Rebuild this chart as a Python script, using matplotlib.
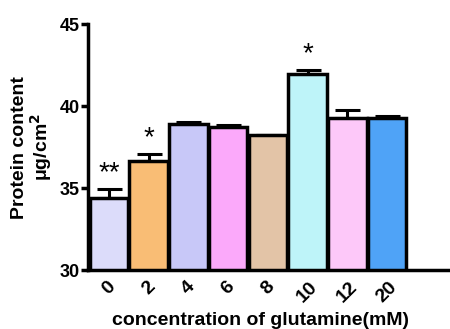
import matplotlib
matplotlib.use("Agg")
import matplotlib.pyplot as plt
import numpy as np

# =====================
# data
# =====================
conc = ["0", "2", "4", "6", "8", "10", "12", "20"]
protein = [34.4, 36.65, 38.9, 38.7, 38.25, 41.95, 39.25, 39.3]
sem = [0.55, 0.42, 0.12, 0.15, 0.0, 0.25, 0.5, 0.07]
stars = ["**", "*", "", "", "", "*", "", ""]
colors = ["#DCDCFA", "#F9BD75", "#C8C8F8", "#FBA9FA",
          "#E3C4A7", "#BEF4F9", "#FDC8F9", "#4FA3F7"]

plt.rcParams["font.family"] = ["Liberation Sans", "DejaVu Sans"]
plt.rcParams["font.weight"] = "bold"

fig = plt.figure(figsize=(4.5, 3.29), dpi=100)
ax = fig.add_axes([0.196, 0.179, 0.81, 0.748])

x = np.arange(len(conc))
ax.bar(x, [p - 30 for p in protein], bottom=30, width=0.97, color=colors,
       edgecolor="black", linewidth=2.5, zorder=3)
ax.errorbar(x, protein, yerr=[np.zeros(len(sem)), sem], fmt="none",
            ecolor="black", elinewidth=2.2, capsize=9, capthick=2.2, zorder=2)

for xi, p, s, st in zip(x, protein, sem, stars):
    if st:
        ax.text(xi, p + s + 0.15, st, ha="center", va="bottom",
                fontsize=20, fontweight="normal")

ax.set_ylim(30, 45)
ax.set_xlim(-0.52, 8.65)
ax.set_yticks([30, 35, 40, 45])
ax.set_xticks(x)
ax.set_xticklabels(conc, rotation=45, ha="center", fontsize=14, fontweight="bold")
for lab in ax.get_yticklabels():
    lab.set_fontsize(13)
    lab.set_fontweight("bold")

ax.spines["top"].set_visible(False)
ax.spines["right"].set_visible(False)
ax.spines["left"].set_linewidth(2.5)
ax.spines["bottom"].set_linewidth(2.5)
ax.tick_params(axis="y", width=2.5, length=5, pad=1)
ax.tick_params(axis="x", length=0, pad=6)

ax.set_ylabel("Protein content\nμg/cm$^\\mathbf{2}$", fontsize=14,
              fontweight="bold", linespacing=1.0, labelpad=4)
ax.set_xlabel("concentration of glutamine(mM)", fontsize=14, fontweight="bold")
ax.xaxis.set_label_coords(0.472, -0.17)

fig.savefig("out.png", dpi=100)
